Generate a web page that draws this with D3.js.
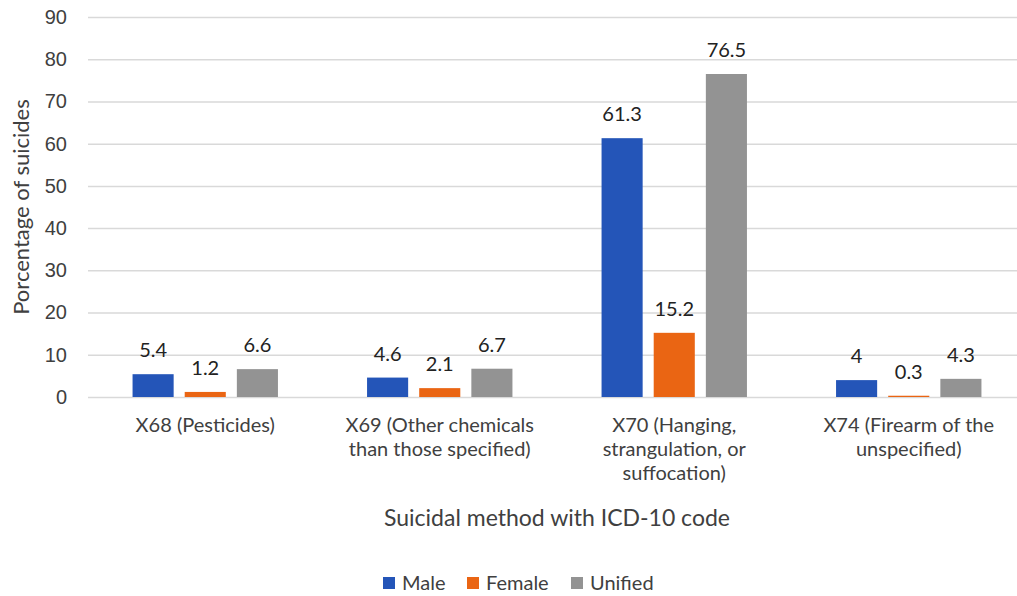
<!DOCTYPE html>
<html>
<head>
<meta charset="utf-8">
<script src="https://cdn.jsdelivr.net/npm/d3@7"></script>
<style>
  body { margin: 0; background: #fff; }
  svg { display: block; font-family: Lato, "Open Sans", sans-serif; }
</style>
</head>
<body>
<svg id="chart" width="1017" height="596"></svg>
<script>
'use strict';

const categories = ['X68', 'X69', 'X70', 'X74'];
const categoryLines = [
  ['X68 (Pesticides)'],
  ['X69 (Other chemicals', 'than those specified)'],
  ['X70 (Hanging,', 'strangulation, or', 'suffocation)'],
  ['X74 (Firearm of the', 'unspecified)']
];
const seriesNames = ['Male', 'Female', 'Unified'];
const maleValues = [5.4, 4.6, 61.3, 4];
const femaleValues = [1.2, 2.1, 15.2, 0.3];
const unifiedValues = [6.6, 6.7, 76.5, 4.3];
const yTicks = [0, 10, 20, 30, 40, 50, 60, 70, 80, 90];
const colors = ['#2455b8', '#ea6513', '#939393'];

const seriesValues = [maleValues, femaleValues, unifiedValues];

const margin = { top: 17, left: 88, bottom: 199, right: -9 };
const width = 1017 - margin.left - margin.right;
const height = 596 - margin.top - margin.bottom;

const svg = d3.select('#chart');
const chart = svg.append('g')
  .attr('transform', `translate(${margin.left}, ${margin.top})`);

const x0 = d3.scaleBand()
  .domain(categories)
  .range([0, width])
  .paddingInner(0.38)
  .paddingOuter(0.19);

const x1 = d3.scaleBand()
  .domain(seriesNames)
  .range([0, x0.bandwidth()])
  .paddingInner(0.212);

const yScale = d3.scaleLinear()
  .domain([0, 90])
  .range([height, 0]);

// gridlines + y labels
const yAxis = d3.axisLeft(yScale)
  .tickValues(yTicks)
  .tickSize(-width)
  .tickPadding(21);

const yg = chart.append('g').call(yAxis);
yg.select('.domain').remove();
yg.selectAll('.tick line')
  .attr('stroke', '#d9d9d9')
  .attr('stroke-width', 1.5);
yg.selectAll('.tick text')
  .attr('fill', '#404040')
  .style('font-size', '20px');

// bars
seriesNames.forEach(function (name, si) {
  const vals = seriesValues[si];
  const g = chart.append('g');
  g.selectAll('rect')
    .data(vals)
    .enter().append('rect')
    .attr('x', (d, i) => x0(categories[i]) + x1(name))
    .attr('y', d => yScale(d))
    .attr('width', x1.bandwidth())
    .attr('height', d => yScale(0) - yScale(d))
    .attr('fill', colors[si]);
  g.selectAll('text')
    .data(vals)
    .enter().append('text')
    .attr('x', (d, i) => x0(categories[i]) + x1(name) + x1.bandwidth() / 2)
    .attr('y', d => yScale(d) - 17)
    .attr('text-anchor', 'middle')
    .attr('fill', '#222')
    .style('font-size', '20px')
    .text(d => d);
});

// category labels
const catG = chart.append('g');
categories.forEach(function (c, i) {
  const t = catG.append('text')
    .attr('x', x0(c) + x0.bandwidth() / 2)
    .attr('y', height + 35)
    .attr('text-anchor', 'middle')
    .attr('fill', '#404040')
    .style('font-size', '20px');
  categoryLines[i].forEach(function (line, li) {
    t.append('tspan')
      .attr('x', x0(c) + x0.bandwidth() / 2)
      .attr('dy', li === 0 ? 0 : 24)
      .text(line);
  });
});

// axis titles
svg.append('text')
  .attr('x', margin.left + (1026 - margin.left) / 2)
  .attr('y', 526)
  .attr('text-anchor', 'middle')
  .attr('fill', '#404040')
  .style('font-size', '23px')
  .text('Suicidal method with ICD-10 code');

svg.append('text')
  .attr('transform', `translate(29, ${margin.top + height / 2}) rotate(-90)`)
  .attr('text-anchor', 'middle')
  .attr('fill', '#404040')
  .style('font-size', '22px')
  .text('Porcentage of suicides');

// legend
const legendX = [383, 467, 571];
const legend = svg.append('g');
seriesNames.forEach(function (name, i) {
  legend.append('rect')
    .attr('x', legendX[i])
    .attr('y', 577)
    .attr('width', 12)
    .attr('height', 12)
    .attr('fill', colors[i]);
  legend.append('text')
    .attr('x', legendX[i] + 19)
    .attr('y', 590)
    .attr('fill', '#404040')
    .style('font-size', '20px')
    .text(name);
});
</script>
</body>
</html>
